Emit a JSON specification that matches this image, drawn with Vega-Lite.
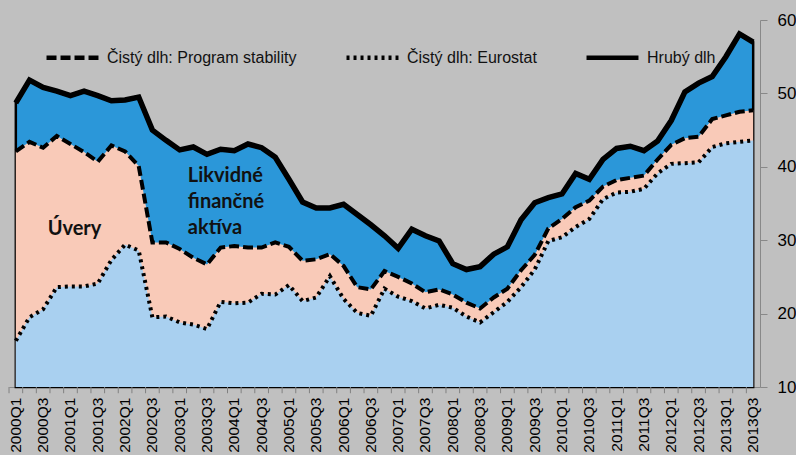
{
  "$schema": "https://vega.github.io/schema/vega-lite/v6.json",
  "width": 751,
  "height": 367,
  "autosize": {"type": "none"},
  "padding": {"left": 9, "top": 20, "right": 36, "bottom": 68},
  "background": "#c0c0c0",
  "config": {
    "view": {"stroke": null},
    "font": "Liberation Sans",
    "axisX": {"title": null, "grid": false, "ticks": false, "labels": false, "domainColor": "#888888"},
    "axisY": {"title": null, "grid": false, "tickSize": 7, "tickColor": "#888888", "domainColor": "#888888", "labelFontSize": 17, "labelColor": "#000000", "labelPadding": 10}
  },
  "data": {"values": [
    {"i":0,"q":"2000Q1","g":48.7,"ps":42.1,"eu":16.3},
    {"i":1,"q":"2000Q2","g":51.8,"ps":43.4,"eu":19.5},
    {"i":2,"q":"2000Q3","g":50.8,"ps":42.6,"eu":20.6},
    {"i":3,"q":"2000Q4","g":50.3,"ps":44.2,"eu":23.6},
    {"i":4,"q":"2001Q1","g":49.7,"ps":43.1,"eu":23.7},
    {"i":5,"q":"2001Q2","g":50.3,"ps":42.0,"eu":23.7},
    {"i":6,"q":"2001Q3","g":49.7,"ps":40.7,"eu":24.1},
    {"i":7,"q":"2001Q4","g":49.0,"ps":42.9,"eu":27.3},
    {"i":8,"q":"2002Q1","g":49.1,"ps":42.1,"eu":29.4},
    {"i":9,"q":"2002Q2","g":49.5,"ps":40.1,"eu":28.6},
    {"i":10,"q":"2002Q3","g":45.0,"ps":29.7,"eu":19.5},
    {"i":11,"q":"2002Q4","g":43.6,"ps":29.7,"eu":19.6},
    {"i":12,"q":"2003Q1","g":42.3,"ps":28.8,"eu":18.8},
    {"i":13,"q":"2003Q2","g":42.7,"ps":27.6,"eu":18.5},
    {"i":14,"q":"2003Q3","g":41.7,"ps":26.7,"eu":17.9},
    {"i":15,"q":"2003Q4","g":42.4,"ps":29.0,"eu":21.6},
    {"i":16,"q":"2004Q1","g":42.2,"ps":29.2,"eu":21.4},
    {"i":17,"q":"2004Q2","g":43.1,"ps":29.0,"eu":21.5},
    {"i":18,"q":"2004Q3","g":42.6,"ps":29.0,"eu":22.7},
    {"i":19,"q":"2004Q4","g":41.3,"ps":29.7,"eu":22.6},
    {"i":20,"q":"2005Q1","g":38.3,"ps":29.1,"eu":23.9},
    {"i":21,"q":"2005Q2","g":35.2,"ps":27.2,"eu":21.7},
    {"i":22,"q":"2005Q3","g":34.4,"ps":27.4,"eu":22.2},
    {"i":23,"q":"2005Q4","g":34.4,"ps":28.1,"eu":25.1},
    {"i":24,"q":"2006Q1","g":34.9,"ps":26.5,"eu":22.0},
    {"i":25,"q":"2006Q2","g":33.5,"ps":23.6,"eu":20.1},
    {"i":26,"q":"2006Q3","g":32.1,"ps":23.3,"eu":19.7},
    {"i":27,"q":"2006Q4","g":30.6,"ps":25.8,"eu":23.4},
    {"i":28,"q":"2007Q1","g":28.9,"ps":25.0,"eu":22.3},
    {"i":29,"q":"2007Q2","g":31.5,"ps":24.1,"eu":21.7},
    {"i":30,"q":"2007Q3","g":30.6,"ps":22.9,"eu":20.7},
    {"i":31,"q":"2007Q4","g":29.9,"ps":23.3,"eu":21.2},
    {"i":32,"q":"2008Q1","g":26.8,"ps":22.6,"eu":20.8},
    {"i":33,"q":"2008Q2","g":26.0,"ps":21.5,"eu":19.6},
    {"i":34,"q":"2008Q3","g":26.4,"ps":20.7,"eu":18.8},
    {"i":35,"q":"2008Q4","g":28.1,"ps":22.2,"eu":20.2},
    {"i":36,"q":"2009Q1","g":29.1,"ps":23.4,"eu":21.6},
    {"i":37,"q":"2009Q2","g":32.8,"ps":25.9,"eu":23.6},
    {"i":38,"q":"2009Q3","g":35.1,"ps":28.0,"eu":26.0},
    {"i":39,"q":"2009Q4","g":35.8,"ps":31.6,"eu":29.9},
    {"i":40,"q":"2010Q1","g":36.3,"ps":32.9,"eu":30.4},
    {"i":41,"q":"2010Q2","g":39.1,"ps":34.5,"eu":31.8},
    {"i":42,"q":"2010Q3","g":38.3,"ps":35.4,"eu":32.9},
    {"i":43,"q":"2010Q4","g":41.0,"ps":37.3,"eu":35.6},
    {"i":44,"q":"2011Q1","g":42.5,"ps":38.2,"eu":36.5},
    {"i":45,"q":"2011Q2","g":42.8,"ps":38.5,"eu":36.6},
    {"i":46,"q":"2011Q3","g":42.2,"ps":38.8,"eu":37.0},
    {"i":47,"q":"2011Q4","g":43.5,"ps":41.0,"eu":39.1},
    {"i":48,"q":"2012Q1","g":46.3,"ps":43.0,"eu":40.4},
    {"i":49,"q":"2012Q2","g":50.2,"ps":43.9,"eu":40.5},
    {"i":50,"q":"2012Q3","g":51.4,"ps":44.1,"eu":40.6},
    {"i":51,"q":"2012Q4","g":52.3,"ps":46.5,"eu":42.7},
    {"i":52,"q":"2013Q1","g":55.0,"ps":47.0,"eu":43.2},
    {"i":53,"q":"2013Q2","g":58.1,"ps":47.5,"eu":43.4},
    {"i":54,"q":"2013Q3","g":57.0,"ps":47.7,"eu":43.6}
  ]},
  "layer": [
    {
      "mark": {"type": "area", "color": "#2b97d9", "stroke": "#000000", "strokeWidth": 2.5},
      "encoding": {
        "x": {"field": "i", "type": "quantitative", "scale": {"domain": [-0.5, 54.5], "nice": false, "zero": false}},
        "y": {"field": "g", "type": "quantitative", "scale": {"domain": [10, 60], "nice": false, "zero": false},
          "axis": {"orient": "right", "values": [10,15,20,25,30,35,40,45,50,55,60]}},
        "y2": {"datum": 10}
      }
    },
    {
      "mark": {"type": "area", "color": "#f9cab8"},
      "encoding": {
        "x": {"field": "i", "type": "quantitative"},
        "y": {"field": "ps", "type": "quantitative"},
        "y2": {"datum": 10}
      }
    },
    {
      "mark": {"type": "area", "color": "#a9d0f0"},
      "encoding": {
        "x": {"field": "i", "type": "quantitative"},
        "y": {"field": "eu", "type": "quantitative"},
        "y2": {"datum": 10}
      }
    },
    {
      "mark": {"type": "rule", "color": "#808080", "strokeWidth": 1, "xOffset": -6.8, "clip": false},
      "encoding": {
        "x": {"field": "i", "type": "quantitative"},
        "y": {"datum": 10, "type": "quantitative"},
        "y2": {"datum": 9.15}
      }
    },
    {
      "transform": [{"filter": "datum.i % 2 == 0"}],
      "mark": {"type": "text", "font": "Liberation Sans", "fontSize": 15.5, "color": "#000000", "angle": 270, "align": "right", "baseline": "middle", "clip": false},
      "encoding": {
        "x": {"field": "i", "type": "quantitative"},
        "y": {"datum": 8.55, "type": "quantitative"},
        "text": {"field": "q"}
      }
    },
    {
      "transform": [{"fold": ["ps", "eu", "g"], "as": ["series", "val"]}],
      "mark": {"type": "line", "color": "#000000", "strokeWidth": 4},
      "encoding": {
        "x": {"field": "i", "type": "quantitative"},
        "y": {"field": "val", "type": "quantitative"},
        "strokeDash": {"field": "series", "type": "nominal", "scale": {"domain": ["ps", "eu", "g"], "range": [[10, 4], [3, 4], [1, 0]]},
          "legend": {"title": null, "orient": "none", "legendX": 35, "legendY": 9, "direction": "horizontal", "padding": 0, "labelFontSize": 16, "labelColor": "#111111", "labelLimit": 400, "labelOffset": 6, "columnPadding": 40, "symbolSize": 2700, "symbolStrokeColor": "#000000", "symbolStrokeWidth": 4.5,
            "labelExpr": "datum.value == 'ps' ? 'Čistý dlh: Program stability' : datum.value == 'eu' ? 'Čistý dlh: Eurostat' : 'Hrubý dlh'"}}
      }
    },
    {
      "mark": {"type": "line", "color": "#000000", "strokeWidth": 5.5},
      "encoding": {
        "x": {"field": "i", "type": "quantitative"},
        "y": {"field": "g", "type": "quantitative"}
      }
    },
    {
      "data": {"values": [{"t": "Úvery"}]},
      "mark": {"type": "text", "font": "Lato", "fontWeight": "bold", "fontSize": 20, "color": "#111111", "align": "center", "baseline": "alphabetic"},
      "encoding": {
        "x": {"datum": 4.3, "type": "quantitative"},
        "y": {"datum": 30.7, "type": "quantitative"},
        "text": {"field": "t"}
      }
    },
    {
      "data": {"values": [{"t": "Likvidné\nfinančné\naktíva"}]},
      "mark": {"type": "text", "font": "Lato", "fontWeight": "bold", "fontSize": 20, "color": "#111111", "align": "left", "baseline": "alphabetic", "lineBreak": "\n", "lineHeight": 26},
      "encoding": {
        "x": {"datum": 12.6, "type": "quantitative"},
        "y": {"datum": 37.9, "type": "quantitative"},
        "text": {"field": "t"}
      }
    }
  ]
}
